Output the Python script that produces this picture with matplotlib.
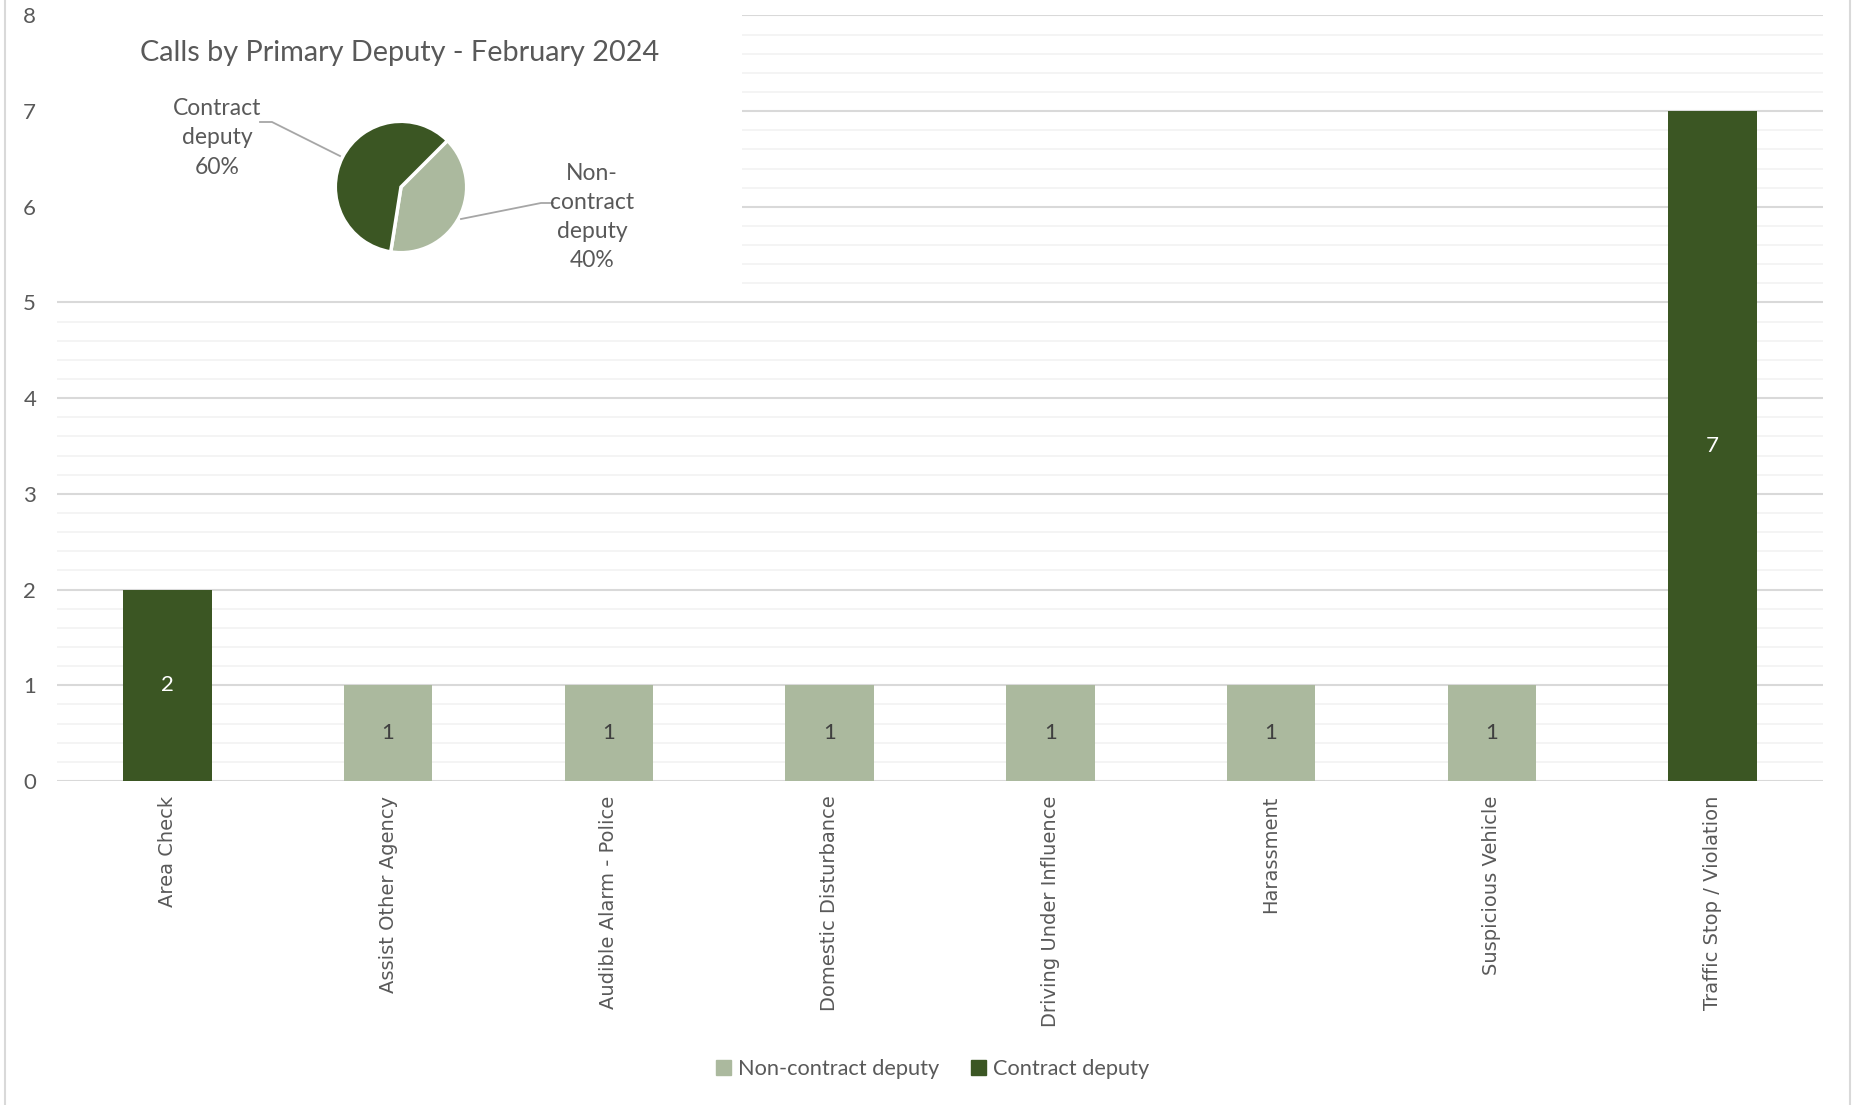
import matplotlib.pyplot as plt
from matplotlib.lines import Line2D
from matplotlib.patches import Patch

categories = ["Area Check", "Assist Other Agency", "Audible Alarm - Police",
              "Domestic Disturbance", "Driving Under Influence", "Harassment",
              "Suspicious Vehicle", "Traffic Stop / Violation"]
non_contract = [0, 1, 1, 1, 1, 1, 1, 0]
contract = [2, 0, 0, 0, 0, 0, 0, 7]

pie_labels = ["Non-\ncontract\ndeputy\n40%", "Contract\ndeputy\n60%"]
pie_values = [40, 60]

LIGHT = "#abb99e"
DARK = "#3b5623"
TXT = "#595959"
W, H = 1853, 1105

plt.rcParams['font.family'] = ['Lato', 'DejaVu Sans']

fig = plt.figure(figsize=(W / 100, H / 100), dpi=100)
ax = fig.add_axes([57 / W, 1 - 781 / H, (1823 - 57) / W, (781 - 15.4) / H])

x = list(range(len(categories)))
ax.bar(x, non_contract, width=0.4, color=LIGHT, label="Non-contract deputy", zorder=3)
ax.bar(x, contract, width=0.4, bottom=non_contract, color=DARK, label="Contract deputy", zorder=3)

for i in x:
    if non_contract[i]:
        ax.text(i, non_contract[i] / 2, str(non_contract[i]), ha="center", va="center",
                fontsize=16, color="#404040", zorder=4)
    if contract[i]:
        ax.text(i, non_contract[i] + contract[i] / 2, str(contract[i]), ha="center", va="center",
                fontsize=16, color="white", zorder=4)

ax.set_xlim(-0.5, 7.5)
ax.set_ylim(0, 8)
ax.set_yticks(range(9))
ax.set_yticks([v / 5 for v in range(41)], minor=True)
ax.grid(axis="y", which="major", color="#d9d9d9", linewidth=1.5, zorder=1)
ax.grid(axis="y", which="minor", color="#f2f2f2", linewidth=1.2, zorder=0)
for s in ax.spines.values():
    s.set_visible(False)
ax.tick_params(axis="both", which="both", length=0)
ax.tick_params(axis="y", labelsize=16, labelcolor=TXT, pad=15)
ax.set_xticks(x)
ax.set_xticklabels(categories, rotation=90, fontsize=14, color=TXT,
                   family=['DejaVu Sans'], va="top")
ax.tick_params(axis="x", pad=10.5)

fig.legend(handles=[Patch(color=LIGHT, label="Non-contract deputy"),
                    Patch(color=DARK, label="Contract deputy")],
           loc="center", bbox_to_anchor=(0.5 + 6 / W, 1 - 1069 / H), ncol=2, frameon=False,
           fontsize=15.7, labelcolor=TXT, handlelength=0.7, handleheight=0.7,
           handletextpad=0.3, columnspacing=1.45)

# inset pie chart with its own white box
box = fig.add_axes([48 / W, 1 - 292 / H, (742 - 48) / W, 292 / H])
box.set_facecolor("white")
box.set_xticks([])
box.set_yticks([])
for s in box.spines.values():
    s.set_visible(False)
box.text((400 - 48) / 694, 1 - 53 / 292, "Calls by Primary Deputy - February 2024",
         transform=box.transAxes, ha="center", va="center", fontsize=20.8, color=TXT)

r = 67
pie = fig.add_axes([(401 - r) / W, 1 - (187 + r) / H, 2 * r / W, 2 * r / H])
pie.pie(pie_values, colors=[LIGHT, DARK], startangle=45, counterclock=False,
        wedgeprops=dict(edgecolor="white", linewidth=2.5))
pie.set_xlim(-1.02, 1.02)
pie.set_ylim(-1.02, 1.02)
pie.set_aspect("equal")


def fx(px):
    return px / W


def fy(py):
    return 1 - py / H


fig.text(fx(217), fy(138), pie_labels[1], ha="center", va="center", fontsize=16.5,
         color=TXT, linespacing=1.48)
fig.text(fx(592), fy(217), pie_labels[0], ha="center", va="center", fontsize=16.5,
         color=TXT, linespacing=1.48)
fig.add_artist(Line2D([fx(260), fx(272), fx(340)], [fy(122), fy(122), fy(156)],
                      color="#a6a6a6", linewidth=1.3))
fig.add_artist(Line2D([fx(461), fx(541), fx(553)], [fy(219), fy(203), fy(203)],
                      color="#a6a6a6", linewidth=1.3))

# outer chart border (left and right edges)
fig.add_artist(Line2D([fx(5), fx(5)], [0, 1], color="#d9d9d9", linewidth=1.5))
fig.add_artist(Line2D([fx(1850), fx(1850)], [0, 1], color="#d9d9d9", linewidth=1.5))

fig.savefig("out.png", dpi=100, facecolor="white")
